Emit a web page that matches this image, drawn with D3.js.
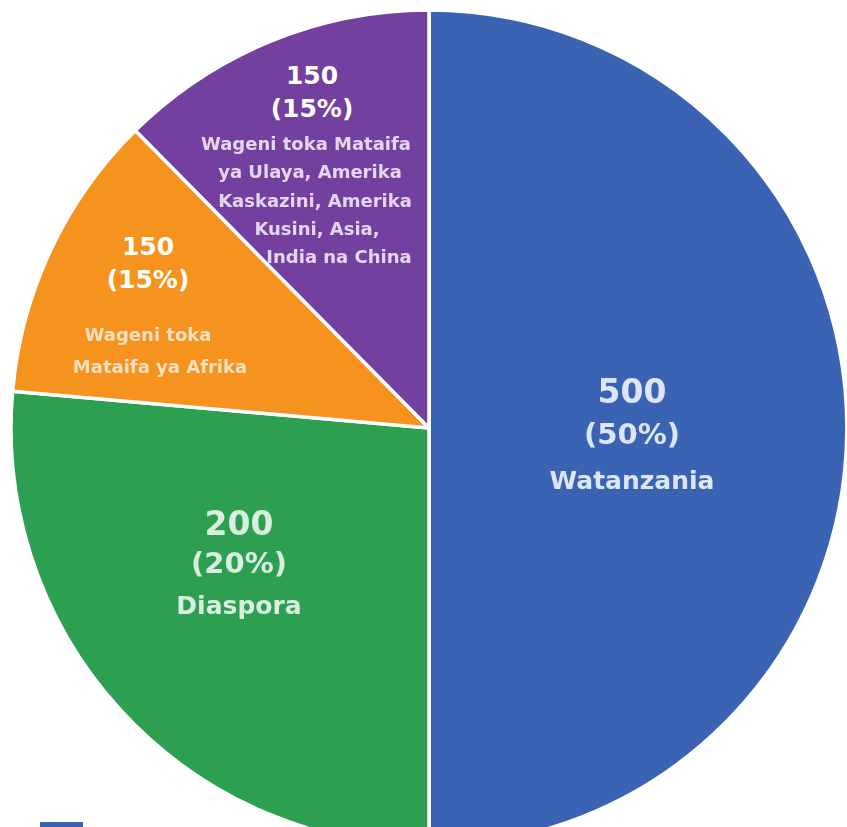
<!DOCTYPE html>
<html>
<head>
<meta charset="utf-8">
<script src="https://cdn.jsdelivr.net/npm/d3@7"></script>
<style>
body {margin:0; background:#ffffff; overflow:hidden;}
svg {display:block;}
</style>
</head>
<body>
<svg id="chart"></svg>
<script>
//data//
var categories = ["Watanzania", "Diaspora", "Wageni toka Mataifa ya Afrika",
                  "Wageni toka Mataifa ya Ulaya, Amerika Kaskazini, Amerika Kusini, Asia, India na China"];
var counts = [500, 200, 150, 150];
var percents = [50, 20, 15, 15];
// slice sizes as they are drawn in the picture (the drawing is not to scale with the counts)
var drawnShare = [50, 26.4, 11.2, 12.4];
var nameLines = [["Watanzania"],
                 ["Diaspora"],
                 ["Wageni toka", "Mataifa ya Afrika"],
                 ["Wageni toka Mataifa", "ya Ulaya, Amerika", "Kaskazini, Amerika", "Kusini, Asia,", "India na China"]];

//look//
var colors = ["#3b63b4", "#2ca050", "#f6921e", "#7440a0"];
var screen = {width: 847, height: 827};
var center = {x: 429, y: 428};
var radius = 418;

// label blocks, offsets from the pie center
var labelLayout = [
  {dx: 203, big: true,  num: -25, pct: 16, names: [61], nameDx: [0], tint: "#dde6f6"},
  {dx: -190, big: true, num: 107, pct: 145, names: [186], nameDx: [0], tint: "#d9eedf"},
  {dx: -281, big: false, num: -173, pct: -140, names: [-87, -55], nameDx: [0, 12], tint: "#f8e0c2"},
  {dx: -117, big: false, num: -344, pct: -311, names: [-278, -250, -221, -193, -165], nameDx: [-6, -2, 3, 5, 27], tint: "#e4d6ef"}
];

var svg = d3.select("#chart")
            .attr("width", screen.width)
            .attr("height", screen.height);

var defs = svg.append("defs");
defs.append("filter")
    .attr("id", "soft")
    .append("feGaussianBlur")
    .attr("stdDeviation", 0.6);

var slices = d3.pie()
               .sort(null)
               .value(function(d) { return d; })(drawnShare);

var arc = d3.arc()
            .innerRadius(0)
            .outerRadius(radius);

var pieG = svg.append("g")
              .attr("transform", "translate(" + center.x + "," + center.y + ")");

pieG.selectAll("path")
    .data(slices)
    .enter()
    .append("path")
    .attr("d", arc)
    .style("fill", function(d, i) { return colors[i]; })
    .style("stroke", "#ffffff")
    .style("stroke-width", 3.5)
    .style("stroke-linejoin", "round")
    .append("title")
    .text(function(d, i) { return categories[i] + ": " + counts[i]; });

//labels//
var labels = pieG.selectAll("g.label")
                 .data(slices)
                 .enter()
                 .append("g")
                 .attr("class", "label")
                 .style("font-family", "'DejaVu Sans', sans-serif")
                 .style("font-weight", "bold")
                 .attr("text-anchor", "middle");

labels.each(function(d, i)
            {
              var g = d3.select(this);
              var L = labelLayout[i];
              var numColor = L.big ? L.tint : "#ffffff";
              g.append("text")
               .attr("x", L.dx)
               .attr("y", L.num)
               .style("font-size", L.big ? "33px" : "25px")
               .style("fill", numColor)
               .attr("filter", L.big ? "url(#soft)" : null)
               .text(counts[i]);
              g.append("text")
               .attr("x", L.dx)
               .attr("y", L.pct)
               .style("font-size", L.big ? "29px" : "25px")
               .style("fill", numColor)
               .attr("filter", L.big ? "url(#soft)" : null)
               .text("(" + percents[i] + "%)");
              nameLines[i].forEach(function(line, j)
                {
                  g.append("text")
                   .attr("x", L.dx + L.nameDx[j])
                   .attr("y", L.names[j])
                   .style("font-size", L.big ? "25px" : "18px")
                   .style("fill", L.tint)
                   .attr("filter", "url(#soft)")
                   .text(line);
                });
            });

//legend swatches, cut off at the bottom edge//
svg.append("g")
   .selectAll("rect")
   .data(categories)
   .enter()
   .append("rect")
   .attr("x", 40)
   .attr("y", function(d, i) { return 822 + i * 30; })
   .attr("width", 43)
   .attr("height", 14)
   .style("fill", function(d, i) { return colors[i]; });
</script>
</body>
</html>
